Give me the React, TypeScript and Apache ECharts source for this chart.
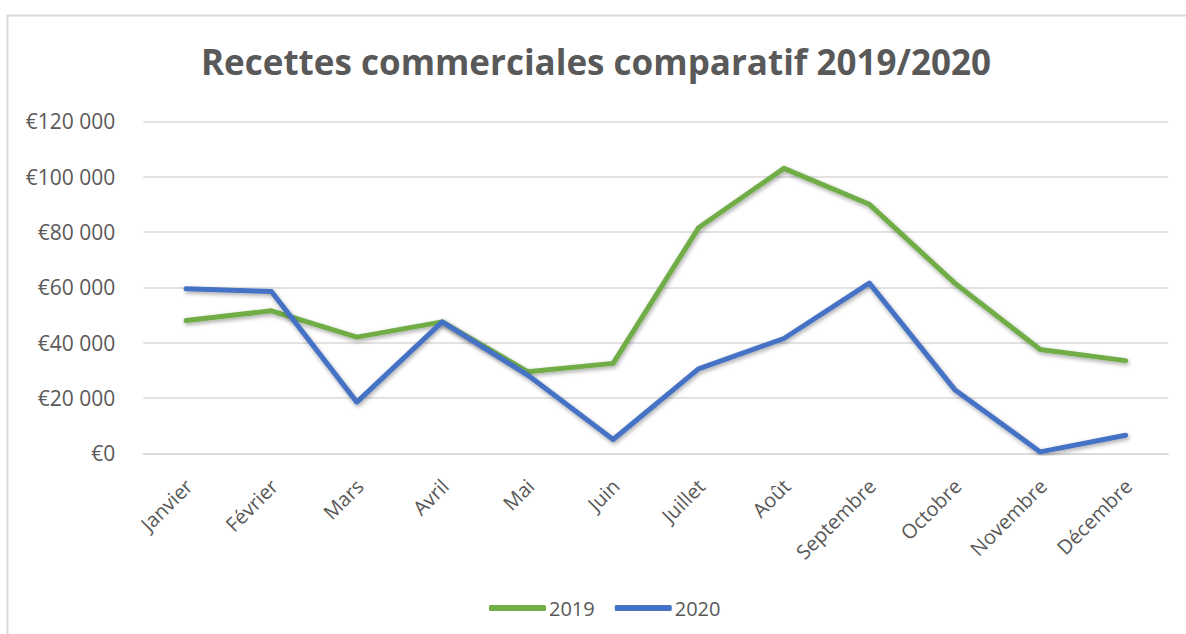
import React, { useEffect, useRef } from "react";
import * as echarts from "echarts";

const months = ["Janvier", "Février", "Mars", "Avril", "Mai", "Juin", "Juillet", "Août", "Septembre", "Octobre", "Novembre", "Décembre"];
const values2019 = [48000, 51500, 42000, 47500, 29500, 32500, 81500, 103000, 90000, 61500, 37500, 33500];
const values2020 = [59500, 58500, 18500, 47500, 28300, 5000, 30500, 41500, 61500, 23000, 500, 6500];
const yTicks = { min: 0, max: 120000, interval: 20000 };
const title = "Recettes commerciales comparatif 2019/2020";

const FONT = "'Open Sans', 'Noto Sans', sans-serif";
const TEXT = "#595959";

function fmt(v: number): string {
  if (v === 0) return "€0";
  const s = String(v);
  return "€" + s.replace(/\B(?=(\d{3})+(?!\d))/g, " ");
}

export default function App() {
  const ref = useRef<HTMLDivElement>(null);
  useEffect(() => {
    if (!ref.current) return;
    const chart = echarts.init(ref.current, null, { renderer: "svg" });
    const lineSeries = (name: string, data: number[], color: string) => ({
      name,
      type: "line",
      data,
      symbol: "none",
      lineStyle: {
        color,
        width: 5,
        cap: "round",
        join: "round",
        shadowColor: "rgba(0,0,0,0.35)",
        shadowBlur: 4,
        shadowOffsetX: 1,
        shadowOffsetY: 2,
      },
      itemStyle: { color },
    });
    chart.setOption({
      animation: false,
      backgroundColor: "#ffffff",
      textStyle: { fontFamily: FONT },
      graphic: [
        {
          type: "rect",
          shape: { x: 7.5, y: 15.5, width: 1200, height: 700 },
          style: { fill: "none", stroke: "#d9d9d9", lineWidth: 2 },
          silent: true,
        },
      ],
      title: {
        text: title,
        left: 591,
        top: 39,
        textAlign: "center",
        textStyle: { fontFamily: FONT, fontSize: 35, fontWeight: "bold", color: TEXT },
      },
      legend: {
        top: 593,
        left: 484,
        itemWidth: 57,
        itemHeight: 6,
        itemGap: 20,
        icon: "roundRect",
        textStyle: { fontFamily: FONT, fontSize: 20, color: TEXT, padding: [0, 0, 0, -2] },
        data: ["2019", "2020"],
      },
      grid: { left: 143.3, right: 17.7, top: 121.3, bottom: 180.7, containLabel: false },
      xAxis: {
        type: "category",
        data: months,
        boundaryGap: true,
        axisLine: { show: true, lineStyle: { color: "#d9d9d9", width: 1.5 } },
        axisTick: { show: false },
        axisLabel: {
          rotate: 45,
          interval: 0,
          margin: 18,
          align: "right",
          verticalAlign: "top",
          padding: [0, 6, 0, 0],
          fontFamily: FONT,
          fontSize: 20,
          color: TEXT,
        },
      },
      yAxis: {
        type: "value",
        min: yTicks.min,
        max: yTicks.max,
        interval: yTicks.interval,
        axisLine: { show: false },
        axisTick: { show: false },
        splitLine: { lineStyle: { color: "#d9d9d9", width: 1.5 } },
        axisLabel: {
          margin: 28,
          fontFamily: FONT,
          fontSize: 21,
          color: TEXT,
          formatter: (v: number) => fmt(v),
        },
      },
      series: [lineSeries("2019", values2019, "#70ad47"), lineSeries("2020", values2020, "#4472c4")],
    });
    return () => chart.dispose();
  }, []);
  return <div ref={ref} style={{ position: "absolute", left: 0, top: 0, width: 1186, height: 634 }} />;
}
